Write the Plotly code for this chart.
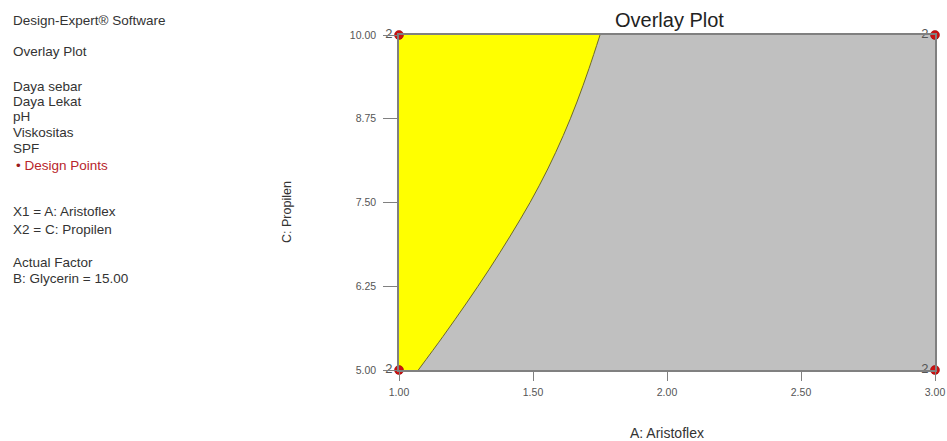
import plotly.graph_objects as go

# Data
boundary_x = [1.072, 1.164, 1.252, 1.336, 1.415, 1.489, 1.555, 1.613, 1.664, 1.709, 1.75]
boundary_y = [5.0, 5.5, 6.0, 6.5, 7.0, 7.5, 8.0, 8.5, 9.0, 9.5, 10.0]
left_edge_x = [1.0, 1.0]
left_edge_y = [5.0, 10.0]
design_x = [1.0, 1.0, 3.0, 3.0]
design_y = [5.0, 10.0, 5.0, 10.0]
design_labels = ["2", "2", "2", "2"]
x_ticks = [1.0, 1.5, 2.0, 2.5, 3.0]
y_ticks = [5.0, 6.25, 7.5, 8.75, 10.0]
info_lines = ["Design-Expert® Software", "Overlay Plot", "Daya sebar", "Daya Lekat", "pH",
              "Viskositas", "SPF", "• Design Points", "X1 = A: Aristoflex", "X2 = C: Propilen",
              "Actual Factor", "B: Glycerin = 15.00"]
info_ypix = [20, 52, 86, 101, 117, 132, 148, 165, 211, 229, 262, 278]

W, H = 947, 441
L, R, T, B = 399, 12, 35, 71
pw, ph = W - L - R, H - T - B

def pxx(p):
    return (p - L) / pw

def pxy(p):
    return (H - B - p) / ph

fig = go.Figure()

# yellow feasible region: between left edge and boundary curve
fig.add_trace(go.Scatter(x=left_edge_x, y=left_edge_y, mode="lines", line=dict(width=0),
                         hoverinfo="skip", showlegend=False))
fig.add_trace(go.Scatter(x=boundary_x, y=boundary_y, mode="lines", line_shape="spline",
                         fill="tonextx", fillcolor="#FFFF00",
                         line=dict(color="#6E6A2A", width=1), showlegend=False, hoverinfo="skip"))
fig.add_trace(go.Scatter(x=design_x, y=design_y, mode="markers+text", text=design_labels,
                         textposition="middle left", textfont=dict(size=13, color="#555555"),
                         marker=dict(color="#CC1111", size=9, line=dict(color="#8B0000", width=0.5)),
                         cliponaxis=False, showlegend=False))

annotations = []
for txt, yp in zip(info_lines, info_ypix):
    color = "#B8252B" if "Design Points" in txt else "#333333"
    t = txt
    if "Design Points" in txt:
        t = "<span style='color:#9B1B1B'>•</span> Design Points"
        xpos = 14
    else:
        xpos = 11
    annotations.append(dict(text=t, x=pxx(xpos), y=pxy(yp), xref="paper", yref="paper",
                            xanchor="left", yanchor="middle", showarrow=False,
                            font=dict(size=13.5, color=color, family="Liberation Sans, Arial")))

annotations.append(dict(text="A: Aristoflex", x=pxx(667), y=pxy(433), xref="paper", yref="paper",
                        xanchor="center", yanchor="middle", showarrow=False,
                        font=dict(size=14, color="#333333")))
annotations.append(dict(text="C: Propilen", x=pxx(287), y=pxy(212), xref="paper", yref="paper",
                        xanchor="center", yanchor="middle", showarrow=False, textangle=-90,
                        font=dict(size=12.5, color="#333333")))
annotations.append(dict(text="Overlay Plot", x=pxx(669), y=pxy(20), xref="paper", yref="paper",
                        xanchor="center", yanchor="middle", showarrow=False,
                        font=dict(size=20, color="#222222")))

fig.update_layout(
    width=W, height=H,
    margin=dict(l=L, r=R, t=T, b=B, autoexpand=False),
    paper_bgcolor="white",
    plot_bgcolor="#C0C0C0",
    font=dict(family="Liberation Sans, Arial", color="#555555"),
    annotations=annotations,
    xaxis=dict(range=[1, 3], tickvals=x_ticks, tickformat=".2f", ticks="outside", ticklen=9,
               tickcolor="#808080", showgrid=False, zeroline=False, showline=True, linecolor="#808080",
               linewidth=1.5, mirror=True, tickfont=dict(size=10.5, color="#555555"),
               ticklabelstandoff=3, automargin=False),
    yaxis=dict(range=[5, 10], tickvals=y_ticks, tickformat=".2f", ticks="outside", ticklen=14,
               tickcolor="#808080", showgrid=False, zeroline=False, showline=True, linecolor="#808080",
               linewidth=1.5, mirror=True, tickfont=dict(size=10.5, color="#555555"),
               ticklabelstandoff=5, automargin=False),
)

fig.write_html("out.html", config={"displayModeBar": False},
               post_script="document.body.style.margin='0';document.body.style.padding='0';"
                           "document.body.style.overflow='hidden';")
